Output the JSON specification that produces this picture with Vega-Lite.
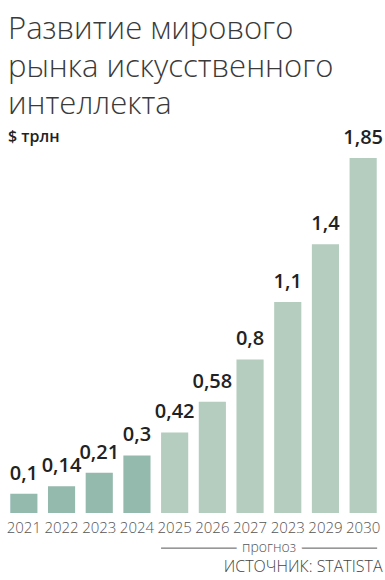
{
  "$schema": "https://vega.github.io/schema/vega-lite/v6.json",
  "width": 377,
  "height": 355,
  "autosize": "none",
  "padding": {"left": 5, "top": 158, "right": 3, "bottom": 67},
  "background": "white",
  "config": {
    "view": {"stroke": null},
    "locale": {"number": {"decimal": ",", "thousands": " ", "grouping": [3], "currency": ["", " $"]}}
  },
  "title": {
    "text": ["Развитие мирового", "рынка искусственного", "интеллекта"],
    "subtitle": "$ трлн",
    "anchor": "start",
    "frame": "group",
    "dx": 3,
    "offset": -18,
    "font": "Open Sans",
    "fontSize": 31,
    "fontWeight": 300,
    "lineHeight": 37.5,
    "color": "#3a3a3a",
    "subtitleFont": "Open Sans",
    "subtitleFontSize": 16,
    "subtitleFontWeight": 600,
    "subtitleColor": "#222222",
    "subtitlePadding": 8
  },
  "datasets": {
    "market": [
      {"year": "2021", "value": 0.1, "kind": "факт"},
      {"year": "2022", "value": 0.14, "kind": "факт"},
      {"year": "2023", "value": 0.21, "kind": "факт"},
      {"year": "2024", "value": 0.3, "kind": "факт"},
      {"year": "2025", "value": 0.42, "kind": "прогноз"},
      {"year": "2026", "value": 0.58, "kind": "прогноз"},
      {"year": "2027", "value": 0.8, "kind": "прогноз"},
      {"year": "2028", "value": 1.1, "kind": "прогноз"},
      {"year": "2029", "value": 1.4, "kind": "прогноз"},
      {"year": "2030", "value": 1.85, "kind": "прогноз"}
    ],
    "note": [{"label": "прогноз", "start": "2025", "end": "2030"}]
  },
  "layer": [
    {
      "data": {"name": "market"},
      "mark": {"type": "bar"},
      "encoding": {
        "x": {
          "field": "year",
          "type": "nominal",
          "sort": null,
          "scale": {"paddingInner": 0.28, "paddingOuter": 0.14},
          "axis": {
            "zindex": 1,
            "labelExpr": "datum.label == '2028' ? '2023' : datum.label",
            "labelAngle": 0,
            "labelFont": "Open Sans",
            "labelFontSize": 15,
            "labelFontWeight": 300,
            "labelColor": "#555555",
            "labelPadding": 7,
            "domain": false,
            "ticks": false,
            "title": "ИСТОЧНИК: STATISTA",
            "titleAnchor": "end",
            "titleFont": "Open Sans",
            "titleFontSize": 16,
            "titleFontWeight": 300,
            "titleColor": "#444444",
            "titlePadding": 23
          }
        },
        "y": {
          "field": "value",
          "type": "quantitative",
          "scale": {"domain": [0, 1.85], "nice": false},
          "axis": null
        },
        "color": {
          "field": "kind",
          "type": "nominal",
          "scale": {"domain": ["факт", "прогноз"], "range": ["#94b9ad", "#b4cdbe"]},
          "legend": null
        }
      }
    },
    {
      "data": {"name": "market"},
      "mark": {"type": "text", "baseline": "alphabetic", "dy": -14, "font": "Open Sans", "fontSize": 20, "fontWeight": 600, "color": "#222222"},
      "encoding": {
        "x": {"field": "year", "type": "nominal", "sort": null},
        "y": {"field": "value", "type": "quantitative"},
        "text": {"field": "value", "type": "quantitative", "format": ".3~g"}
      }
    },
    {
      "data": {"name": "note"},
      "mark": {"type": "rule", "color": "#555555", "strokeWidth": 1, "x2Offset": 14},
      "encoding": {
        "x": {"field": "start", "type": "nominal", "bandPosition": 0},
        "x2": {"field": "end"},
        "y": {"datum": -0.183, "type": "quantitative"}
      }
    },
    {
      "data": {"name": "note"},
      "mark": {"type": "text", "baseline": "middle", "align": "center", "font": "Open Sans", "fontSize": 14, "fontWeight": 300, "fill": "white", "stroke": "white", "strokeWidth": 13, "strokeJoin": "round"},
      "encoding": {
        "x": {"datum": "2027", "bandPosition": 1.2},
        "y": {"datum": -0.183, "type": "quantitative"},
        "text": {"field": "label"}
      }
    },
    {
      "data": {"name": "note"},
      "mark": {"type": "text", "baseline": "middle", "align": "center", "font": "Open Sans", "fontSize": 14, "fontWeight": 300, "color": "#555555"},
      "encoding": {
        "x": {"datum": "2027", "bandPosition": 1.2},
        "y": {"datum": -0.183, "type": "quantitative"},
        "text": {"field": "label"}
      }
    }
  ]
}
